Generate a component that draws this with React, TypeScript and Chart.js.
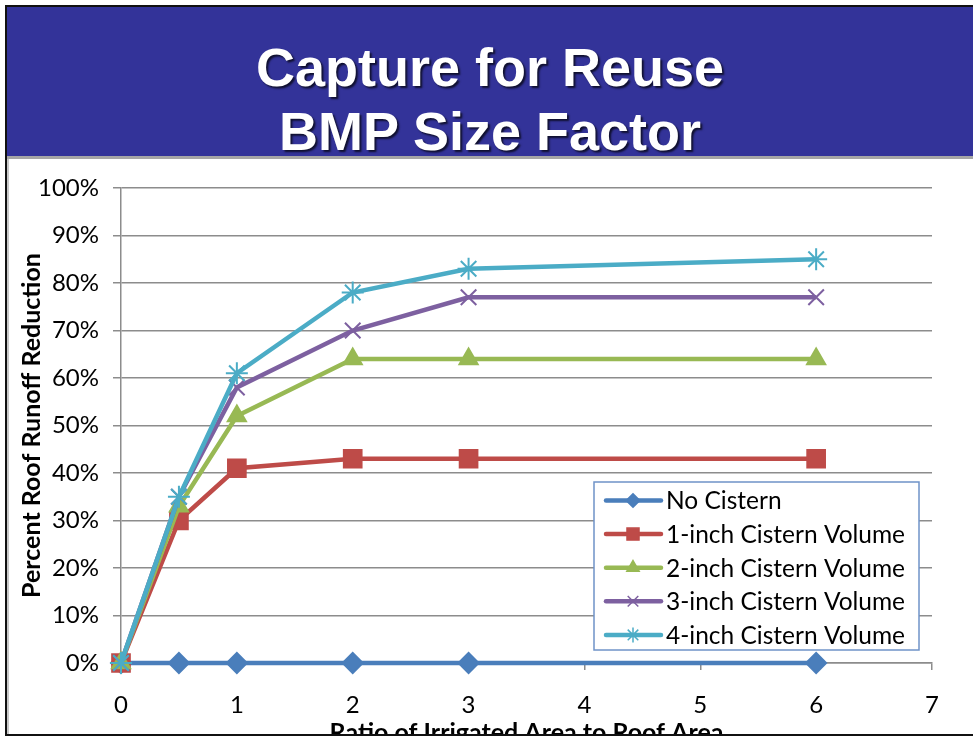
import React, { useEffect, useRef } from "react";
import { Chart, registerables } from "chart.js";
import { drawPoint } from "chart.js/helpers";

Chart.register(...registerables);

const xValues = [0, 0.5, 1, 2, 3, 6];
const noCistern = [0, 0, 0, 0, 0, 0];
const oneInch = [0, 30, 41, 43, 43, 43];
const twoInch = [0, 33, 52, 64, 64, 64];
const threeInch = [0, 35, 58, 70, 77, 77];
const fourInch = [0, 35, 61, 78, 83, 85];
const seriesNames = [
  "No Cistern",
  "1-inch Cistern Volume",
  "2-inch Cistern Volume",
  "3-inch Cistern Volume",
  "4-inch Cistern Volume",
];
const titleLines = ["Capture for Reuse", "BMP Size Factor"];
const xTitle = "Ratio of Irrigated Area to Roof Area";
const yTitle = "Percent Roof Runoff Reduction";

const FONT = "Lato";

const legendPlugin = {
  id: "boxLegend",
  afterDraw(chart: any) {
    const { ctx, chartArea } = chart;
    const x0 = chartArea.left + 473;
    const y0 = chartArea.top + 294;
    const w = 325;
    const h = 168;
    ctx.save();
    ctx.fillStyle = "#ffffff";
    ctx.fillRect(x0, y0, w, h);
    ctx.strokeStyle = "#6f93c8";
    ctx.lineWidth = 1.5;
    ctx.strokeRect(x0, y0, w, h);
    chart.data.datasets.forEach((ds: any, i: number) => {
      const cy = y0 + 18.5 + i * 33.6;
      ctx.beginPath();
      ctx.strokeStyle = ds.borderColor;
      ctx.lineWidth = 4.5;
      ctx.lineCap = "round";
      ctx.moveTo(x0 + 12, cy);
      ctx.lineTo(x0 + 67, cy);
      ctx.stroke();
      ctx.fillStyle = ds.borderColor;
      ctx.strokeStyle = ds.borderColor;
      ctx.lineWidth = 1.5;
      ctx.lineCap = "butt";
      drawPoint(
        ctx,
        {
          pointStyle: ds.pointStyle,
          radius: ds.pointRadius * 0.68,
          rotation: 0,
          borderWidth: 1.5,
        } as any,
        x0 + 39,
        cy
      );
      ctx.fillStyle = "#000000";
      ctx.font = `24.5px ${FONT}`;
      ctx.textBaseline = "middle";
      ctx.textAlign = "left";
      ctx.fillText(seriesNames[i], x0 + 72, cy + 1);
    });
    ctx.restore();
  },
};

function makeData(values: number[]) {
  return xValues.map((x, i) => ({ x, y: values[i] }));
}

export default function App() {
  const canvasRef = useRef<HTMLCanvasElement | null>(null);

  useEffect(() => {
    if (!canvasRef.current) return;
    const series = [
      { v: noCistern, color: "#4a7ebb", style: "rectRot", r: 10 },
      { v: oneInch, color: "#be4b48", style: "rect", r: 12.5 },
      { v: twoInch, color: "#98b954", style: "triangle", r: 10.5 },
      { v: threeInch, color: "#7d60a0", style: "crossRot", r: 11 },
      { v: fourInch, color: "#4bacc6", style: "star", r: 11 },
    ];
    const chart = new Chart(canvasRef.current, {
      type: "line",
      data: {
        datasets: series.map((s, i) => ({
          label: seriesNames[i],
          data: makeData(s.v),
          borderColor: s.color,
          backgroundColor: s.color,
          borderWidth: 4.5,
          pointStyle: s.style as any,
          pointRadius: s.r,
          pointHoverRadius: s.r,
          pointBackgroundColor: s.color,
          pointBorderColor: s.color,
          pointBorderWidth: 2,
          tension: 0,
          fill: false,
          order: 4 - i,
          clip: false as any,
        })),
      },
      options: {
        animation: false,
        responsive: false,
        maintainAspectRatio: false,
        layout: { padding: { top: 29, right: 41, left: 0, bottom: 0 } },
        plugins: {
          legend: { display: false },
          tooltip: { enabled: false },
          title: { display: false },
        },
        scales: {
          x: {
            type: "linear",
            min: 0,
            max: 7,
            afterFit: (scale: any) => {
              scale.height = 71;
            },
            ticks: {
              stepSize: 1,
              color: "#000000",
              font: { family: FONT, size: 24 },
              padding: 21,
            },
            grid: {
              drawOnChartArea: false,
              drawTicks: true,
              tickLength: 7,
              color: "#8c8c8c",
              lineWidth: 1.5,
            },
            border: { display: true, color: "#8c8c8c", width: 1.5 },
            title: {
              display: true,
              text: xTitle,
              color: "#000000",
              font: { family: FONT, size: 25, weight: "bold" },
              padding: { top: 0, bottom: -14 },
            },
          },
          y: {
            type: "linear",
            min: 0,
            max: 100,
            afterFit: (scale: any) => {
              scale.width = 112;
            },
            ticks: {
              stepSize: 10,
              color: "#000000",
              font: { family: FONT, size: 24 },
              padding: 14,
              callback: (v: any) => `${v}%`,
            },
            grid: {
              drawOnChartArea: true,
              drawTicks: true,
              tickLength: 8,
              color: "#8c8c8c",
              lineWidth: 1.5,
            },
            border: { display: true, color: "#8c8c8c", width: 1.5 },
            title: {
              display: true,
              text: yTitle,
              color: "#000000",
              font: { family: FONT, size: 25, weight: "bold" },
              padding: { top: 8, bottom: 0 },
            },
          },
        },
      },
      plugins: [legendPlugin],
    } as any);
    return () => chart.destroy();
  }, []);

  return (
    <div
      style={{
        position: "absolute",
        left: 0,
        top: 0,
        width: 973,
        height: 739,
        background: "#ffffff",
        overflow: "hidden",
      }}
    >
      <div style={{ position: "absolute", left: 5, top: 5, right: 0, height: 2, background: "#111" }} />
      <div style={{ position: "absolute", left: 5, top: 5, width: 2, height: 731, background: "#111" }} />
      <div style={{ position: "absolute", left: 7, top: 159, width: 2, height: 575, background: "#c8c8c8" }} />
      <div
        style={{
          position: "absolute",
          left: 7,
          top: 7,
          right: 0,
          height: 149,
          background: "#333399",
        }}
      />
      <div style={{ position: "absolute", left: 7, top: 156, right: 0, height: 3, background: "#a6a6a6" }} />
      {titleLines.map((t, i) => (
        <div
          key={i}
          style={{
            position: "absolute",
            left: 7,
            right: 0,
            top: 35 + i * 64,
            height: 64,
            lineHeight: "64px",
            textAlign: "center",
            color: "#ffffff",
            fontFamily: "'Liberation Sans', Arial, sans-serif",
            fontWeight: "bold",
            fontSize: 54,
            textShadow: "2px 2px 2px rgba(0,0,0,0.7)",
            whiteSpace: "nowrap",
          }}
        >
          {t}
        </div>
      ))}
      <canvas
        ref={canvasRef}
        width={964}
        height={575}
        style={{ position: "absolute", left: 9, top: 159, width: 964, height: 575 }}
      />
      <div style={{ position: "absolute", left: 5, top: 734, right: 0, height: 2, background: "#111" }} />
    </div>
  );
}
